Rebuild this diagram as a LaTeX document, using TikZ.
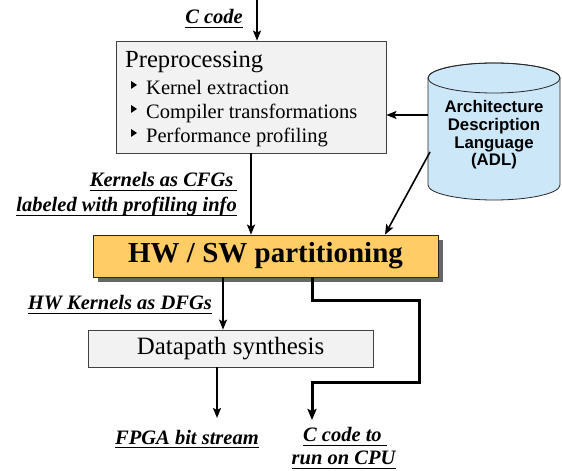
\documentclass[tikz,border=0pt]{standalone}
\usepackage{fontspec}
\setmainfont{Liberation Serif}
\newfontfamily\adlfont{Liberation Sans}
\usetikzlibrary{arrows.meta,shadows}
\definecolor{boxgray}{HTML}{F2F2F2}
\definecolor{partorange}{HTML}{FFCC66}
\definecolor{adlblue}{HTML}{CCE8F8}
% bold italic underlined flow labels
\newcommand{\flowlabel}[1]{\setbox0=\hbox{\textbf{\textit{#1}}}%
   \leavevmode\rlap{\vrule height -2.6pt depth 4.1pt width \wd0}\box0}

\begin{document}
\begin{tikzpicture}[x=1pt,y=1pt,
   lbl/.style={inner sep=0pt,font=\fontsize{20.5}{24}\selectfont},
   stagebox/.style={draw=black!75,fill=boxgray,line width=0.8pt,inner sep=0pt},
   flow/.style={line width=1.6pt,-{Stealth[length=10pt,width=8pt,inset=2pt]}},
   itemtext/.style={anchor=base west,inner sep=0pt,font=\fontsize{20.5}{24}\selectfont}]
   \useasboundingbox (0,0) rectangle (562,471);

   % preprocessing stage
   \node [stagebox,minimum width=270,minimum height=112] (prep) at (251,374) {};
   \node [anchor=base west,inner sep=0pt,font=\fontsize{24.6}{28}\selectfont] (prepTitle) at (125,403) {Preprocessing};
   \node [itemtext] (itemA) at (146,376) {Kernel extraction};
   \node [itemtext] (itemB) at (146,352) {Compiler transformations};
   \node [itemtext] (itemC) at (146,328) {Performance profiling};
   \foreach \yb in {386,362,338}
      \fill (131,\yb+4) -- (137,\yb) -- (131,\yb-4) -- cycle;

   % input
   \coordinate (cin) at (257,471);
   \node [lbl,anchor=base] (ccode) at (214,447) {\flowlabel{C code}};
   \draw [flow] (cin) -- (cin |- prep.north);

   % architecture description
   \filldraw [fill=adlblue,draw=black!85,line width=0.8pt] (428,393) -- (428,286)
      arc [start angle=180,end angle=360,x radius=66,y radius=15] -- (560,393)
      arc [start angle=0,end angle=180,x radius=66,y radius=15] -- cycle;
   \draw [black!85,line width=0.8pt] (494,393) ellipse [x radius=66,y radius=15];
   \node [align=center,inner sep=0pt,font=\adlfont\bfseries\fontsize{16.8}{17.6}\selectfont] (adl) at (494,336)
      {Architecture\\Description\\Language\\(ADL)};
   \coordinate (adlL) at (428,356);
   \coordinate (adlB) at (430,319);
   \coordinate (adlTip) at (385,0);

   % partitioning
   \node [draw=black!85,fill=partorange,line width=0.8pt,minimum width=345,minimum height=42,
      drop shadow={shadow xshift=5pt,shadow yshift=-5pt,fill=black!60,opacity=1},
      font=\fontsize{29}{32}\selectfont\bfseries] (part) at (265.5,215) {HW / SW partitioning};
   \node [lbl,anchor=base east] (cfgA) at (237,284) {\flowlabel{Kernels as CFGs\,}};
   \node [lbl,anchor=base east] (cfgB) at (237,259) {\flowlabel{labeled with profiling info}};
   \draw [flow] (adlL) -- (adlL -| prep.east);
   \draw [flow] (prep.south) -- (part.north -| prep.south);
   \draw [flow] (adlB) -- (part.north -| adlTip);

   % datapath synthesis
   \node [stagebox,minimum width=285,minimum height=37,font=\fontsize{24.9}{28}\selectfont] (dp) at (230.5,122.5) {Datapath synthesis};
   \node [lbl,anchor=base east] (dfg) at (212,161) {\flowlabel{HW Kernels as DFGs}};
   \coordinate (hw) at (223,0);
   \draw [flow] (part.south -| hw) -- (dp.north -| hw);

   % outputs
   \coordinate (fpgaTip) at (217,53);
   \node [lbl,anchor=base] (fpga) at (187,27) {\flowlabel{FPGA bit stream}};
   \draw [flow] (dp.south -| fpgaTip) -- (fpgaTip);
   \node [lbl,anchor=base] (cpuA) at (345,29) {\flowlabel{C code to~}};
   \node [lbl,anchor=base] (cpuB) at (344,6) {\flowlabel{run on CPU}};
   \coordinate (sw) at (312,0);
   \coordinate (cpuTip) at (312,51);
   \draw [line width=3pt,line join=miter,-{Stealth[length=11pt,width=9pt,inset=2pt]}]
      (part.south -| sw) -- (312,170) -- (419,170) -- (419,88) -- (312,88) -- (cpuTip);
\end{tikzpicture}
\end{document}
